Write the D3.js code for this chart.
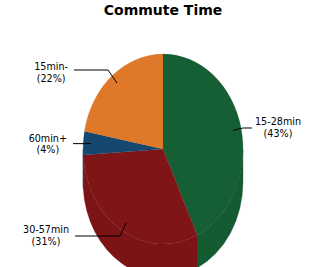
<!DOCTYPE html>
<html>
<head>
<meta charset="utf-8">
<script src="https://cdn.jsdelivr.net/npm/d3@7"></script>
<style>
  html, body { margin: 0; padding: 0; background: #fff; }
  svg { display: block; }
  text { font-family: "DejaVu Sans", sans-serif; }
</style>
</head>
<body>
<svg id="chart" width="326" height="267"></svg>
<script>
// ---- data ----
const title = "Commute Time";
const categories = ["15-28min", "30-57min", "60min+", "15min-"];
const percents = [43, 31, 4, 22];
const colors = ["#165E33", "#801517", "#16476F", "#E07829"];

// ---- layout ----
const W = 326, H = 267;
const cx = 163, cy = 149, rx = 80, ry = 95, depth = 33;
// leader layout per category: elbow point and horizontal end, label side
const leaders = [
  { elbow: [243, 128], end: 252, side: "right", base: -3 },
  { elbow: [120, 236], end: 75,  side: "left",  base: -3 },
  { elbow: null,       end: 73,  side: "left",  base: -2 },
  { elbow: [108, 70],  end: 74,  side: "left",  base: 0 }
];

const svg = d3.select("#chart");
svg.append("rect").attr("width", W).attr("height", H).attr("fill", "#fff");

svg.append("text")
  .attr("x", cx).attr("y", 15)
  .attr("text-anchor", "middle")
  .attr("font-size", 14).attr("font-weight", "bold")
  .attr("fill", "#000")
  .text(title);

const pie = d3.pie().sort(null).value(d => d)(percents);
const px = a => cx + rx * Math.sin(a);
const py = a => cy - ry * Math.cos(a);

// sides (front wall) -- only the part with angles in [PI/2, 3PI/2]
const sideG = svg.append("g");
pie.forEach((s, i) => {
  const a0 = Math.max(s.startAngle, Math.PI / 2);
  const a1 = Math.min(s.endAngle, 3 * Math.PI / 2);
  if (a1 <= a0) return;
  const p = `M${px(a0)},${py(a0)} A${rx},${ry} 0 0 1 ${px(a1)},${py(a1)} ` +
            `L${px(a1)},${py(a1) + depth} A${rx},${ry} 0 0 0 ${px(a0)},${py(a0) + depth} Z`;
  sideG.append("path")
    .attr("d", p)
    .attr("fill", d3.color(colors[i]).darker(0.08))
    .attr("stroke", d3.color(colors[i]).darker(0.3))
    .attr("stroke-opacity", 0.5)
    .attr("stroke-width", 0.6);
});

// top faces using d3.arc scaled into an ellipse
const arc = d3.arc().innerRadius(0).outerRadius(1);
const topG = svg.append("g").attr("transform", `translate(${cx},${cy}) scale(${rx},${ry})`);
topG.selectAll("path").data(pie).join("path")
  .attr("d", arc)
  .attr("fill", (d, i) => colors[i])
  .attr("stroke", (d, i) => d3.color(colors[i]).darker(0.6))
  .attr("stroke-opacity", 0.22)
  .attr("stroke-width", 0.8)
  .attr("vector-effect", "non-scaling-stroke");

// labels + leader lines
const lblG = svg.append("g");
pie.forEach((s, i) => {
  const mid = (s.startAngle + s.endAngle) / 2;
  const ax = cx + 0.9 * rx * Math.sin(mid);
  const ay = cy - 0.9 * ry * Math.cos(mid);
  const L = leaders[i];
  const lineY = L.elbow ? L.elbow[1] : ay;
  const pts = [[ax, ay]];
  if (L.elbow) pts.push(L.elbow);
  pts.push([L.end, lineY]);
  lblG.append("path")
    .attr("d", d3.line()(pts))
    .attr("fill", "none").attr("stroke", "#000").attr("stroke-width", 1);

  const t = lblG.append("text")
    .attr("font-size", 9.6).attr("fill", "#000")
    .attr("text-anchor", "middle");
  const l1 = t.append("tspan").text(categories[i]);
  const l2 = t.append("tspan").text(`(${percents[i]}%)`);
  const w = Math.max(l1.node().getComputedTextLength(), l2.node().getComputedTextLength());
  const tcx = L.side === "left" ? L.end - 6 - w / 2 : L.end + 3 + w / 2;
  l1.attr("x", tcx).attr("y", lineY + L.base);
  l2.attr("x", tcx).attr("y", lineY + L.base + 11.5);
});
</script>
</body>
</html>
